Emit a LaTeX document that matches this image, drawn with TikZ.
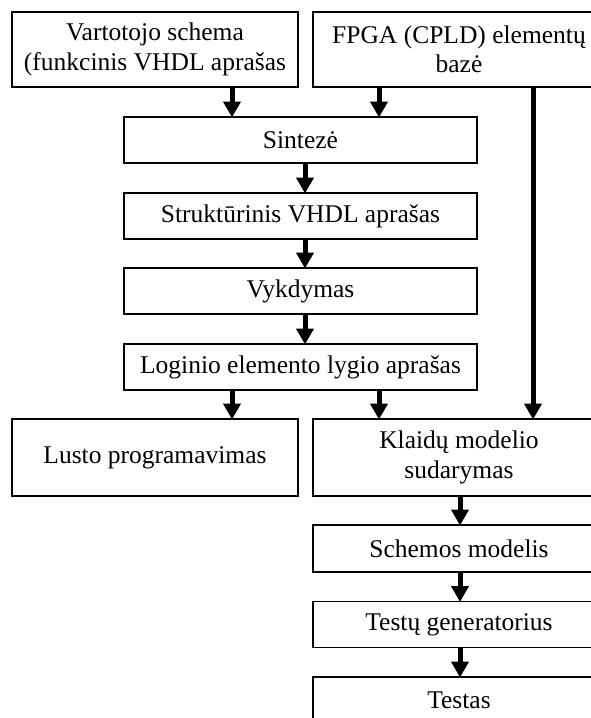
\documentclass[tikz,border=0pt]{standalone}
\usepackage{fontspec}
\setmainfont{Liberation Serif}
\usetikzlibrary{arrows.meta,calc}
\tikzset{
  box/.style={draw, line width=1.6pt, rectangle, inner sep=0pt, outer sep=0pt, align=center,
    font=\fontsize{25.5}{29.5}\selectfont},
  arr/.style={line width=5pt, -{Triangle[length=16pt,width=17pt]}, shorten >=-0.5pt},
}
\begin{document}
\begin{tikzpicture}[x=1pt,y=-1pt]
\useasboundingbox (0,0) rectangle (591,718);
\clip (0,0) rectangle (591,718);
\fill[white] (0,0) rectangle (591,718);
% top row
\node[box, minimum width=286pt, minimum height=75pt] (b1) at (155,49.5) {Vartotojo schema\\(funkcinis VHDL aprašas};
\node[box, minimum width=292pt, minimum height=75pt] (b2) at (459,49.5) {FPGA (CPLD) elementų\\bazė};
% centre column
\node[box, minimum width=353pt, minimum height=46pt] (sint) at (300.5,140) {Sintezė};
\node[box, minimum width=353pt, minimum height=46pt] (strukt) at (300.5,216) {Struktūrinis VHDL aprašas};
\node[box, minimum width=353pt, minimum height=46pt] (vyk) at (300.5,291) {Vykdymas};
\node[box, minimum width=353pt, minimum height=46pt] (log) at (300.5,367) {Loginio elemento lygio aprašas};
% lower rows
\node[box, minimum width=286pt, minimum height=77pt] (lusto) at (155,457.5) {Lusto programavimas};
\node[box, minimum width=292pt, minimum height=77pt] (klaid) at (459,457.5) {Klaidų modelio\\sudarymas};
\node[box, minimum width=292pt, minimum height=47pt] (schem) at (459,548.5) {Schemos modelis};
\node[box, minimum width=292pt, minimum height=46pt] (testu) at (459,624.5) {Testų generatorius};
\node[box, minimum width=292pt, minimum height=52pt] (testas) at (459,703) {\raisebox{6pt}{Testas}};
% connectors
\draw[arr] ([xshift=77pt]b1.south) -- ([xshift=77pt]b1.south |- sint.north);
\draw[arr] ([xshift=-80pt]b2.south) -- ([xshift=-80pt]b2.south |- sint.north);
\draw[arr] ([xshift=74pt]b2.south) -- ([xshift=74pt]b2.south |- klaid.north);
\draw[arr] ([xshift=4.5pt]sint.south) -- ([xshift=4.5pt]strukt.north);
\draw[arr] ([xshift=4.5pt]strukt.south) -- ([xshift=4.5pt]vyk.north);
\draw[arr] ([xshift=4.5pt]vyk.south) -- ([xshift=4.5pt]log.north);
\draw[arr] ([xshift=-68.5pt]log.south) -- ([xshift=-68.5pt]log.south |- lusto.north);
\draw[arr] ([xshift=78.5pt]log.south) -- ([xshift=78.5pt]log.south |- klaid.north);
\draw[arr] ([xshift=1pt]klaid.south) -- ([xshift=1pt]schem.north);
\draw[arr] ([xshift=1pt]schem.south) -- ([xshift=1pt]testu.north);
\draw[arr] ([xshift=1pt]testu.south) -- ([xshift=1pt]testas.north);
\end{tikzpicture}
\end{document}
